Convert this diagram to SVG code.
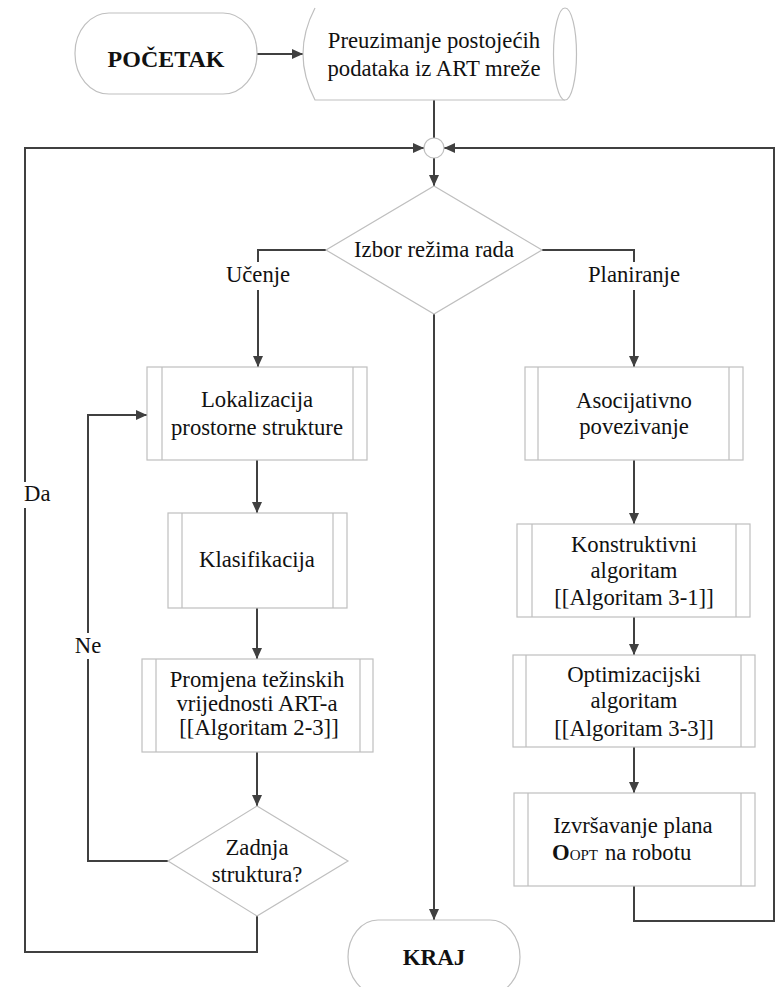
<svg xmlns="http://www.w3.org/2000/svg" width="775" height="987" viewBox="0 0 775 987">
<style>
.sh{fill:#fff;stroke:#bfbfbf;stroke-width:1.2}
.in{fill:none;stroke:#bfbfbf;stroke-width:1.2}
.c{fill:none;stroke:#404040;stroke-width:2}
text{font-family:"Liberation Serif","Times New Roman",serif;font-size:22.7px;fill:#111;text-anchor:middle}
.b{font-weight:bold;font-size:23px}
.lb{fill:#fff;stroke:none}
</style>
<defs>
<marker id="ah" markerUnits="userSpaceOnUse" markerWidth="11" markerHeight="10" refX="11" refY="5" orient="auto">
<path d="M0,0 L11,5 L0,10 z" fill="#404040"/>
</marker>
</defs>
<rect width="775" height="987" fill="#fff"/>
<g id="connectors">
<path class="c" d="M257,54 H303" marker-end="url(#ah)"/>
<path class="c" d="M434,100 V138"/>
<path class="c" d="M434,158 V186" marker-end="url(#ah)"/>
<path class="c" d="M326,250 H258 V367" marker-end="url(#ah)"/>
<path class="c" d="M542,250 H634 V367" marker-end="url(#ah)"/>
<path class="c" d="M434,314 V920" marker-end="url(#ah)"/>
<path class="c" d="M257,460 V513" marker-end="url(#ah)"/>
<path class="c" d="M257,608 V659" marker-end="url(#ah)"/>
<path class="c" d="M257,752 V806" marker-end="url(#ah)"/>
<path class="c" d="M168,861 H88 V415 H147" marker-end="url(#ah)"/>
<path class="c" d="M257,916 V952 H25 V148 H424" marker-end="url(#ah)"/>
<path class="c" d="M634,460 V524" marker-end="url(#ah)"/>
<path class="c" d="M634,617 V655" marker-end="url(#ah)"/>
<path class="c" d="M634,747 V793" marker-end="url(#ah)"/>
<path class="c" d="M634,886 V921 H774 V148 H444" marker-end="url(#ah)"/>
<rect class="lb" x="220" y="262" width="76" height="28"/>
<text x="258" y="282">Učenje</text>
<rect class="lb" x="582" y="262" width="104" height="28"/>
<text x="634" y="282">Planiranje</text>
<rect class="lb" x="72" y="633" width="32" height="26"/>
<text x="88" y="653">Ne</text>
<rect class="lb" x="18" y="482" width="34" height="26"/>
<text x="24" y="501" style="text-anchor:start">Da</text>
</g>
<g id="start">
<rect class="sh" x="75" y="13" width="182" height="81" rx="34" ry="40"/>
<text class="b" x="166" y="67" style="font-size:24px">POČETAK</text>
</g>
<g id="data">
<path class="sh" d="M315,8 Q291,54 315,100 L565,100"/>
<ellipse class="sh" cx="565" cy="54" rx="11.5" ry="46"/>
<text x="434" y="48">Preuzimanje postojećih</text>
<text x="434" y="76">podataka iz ART mreže</text>
</g>
<g id="merge">
<circle class="sh" cx="434" cy="148" r="10"/>
</g>
<g id="mode">
<path class="sh" d="M434,186 L542,250 L434,314 L326,250 z"/>
<text x="434" y="257">Izbor režima rada</text>
</g>
<g id="lokalizacija">
<rect class="sh" x="147" y="367" width="220" height="93"/>
<path class="in" d="M162,367 V460 M353,367 V460"/>
<text x="257" y="407">Lokalizacija</text>
<text x="257" y="435">prostorne strukture</text>
</g>
<g id="klasifikacija">
<rect class="sh" x="168" y="513" width="179" height="95"/>
<path class="in" d="M182,513 V608 M333,513 V608"/>
<text x="257" y="567">Klasifikacija</text>
</g>
<g id="promjena">
<rect class="sh" x="142" y="659" width="231" height="93"/>
<path class="in" d="M156,659 V752 M360,659 V752"/>
<text x="257" y="687">Promjena težinskih</text>
<text x="257" y="711">vrijednosti ART-a</text>
<text x="259" y="735">[[Algoritam 2-3]]</text>
</g>
<g id="zadnja">
<path class="sh" d="M257,806 L348,861 L257,916 L168,861 z"/>
<text x="257" y="855">Zadnja</text>
<text x="257" y="882">struktura?</text>
</g>
<g id="kraj">
<rect class="sh" x="348" y="920" width="172" height="74" rx="30" ry="37"/>
<text class="b" x="434" y="965">KRAJ</text>
</g>
<g id="asocijativno">
<rect class="sh" x="525" y="367" width="218" height="93"/>
<path class="in" d="M538,367 V460 M729,367 V460"/>
<text x="634" y="408">Asocijativno</text>
<text x="634" y="434">povezivanje</text>
</g>
<g id="konstruktivni">
<rect class="sh" x="517" y="524" width="233" height="93"/>
<path class="in" d="M532,524 V617 M736,524 V617"/>
<text x="634" y="552">Konstruktivni</text>
<text x="634" y="578">algoritam</text>
<text x="634" y="605">[[Algoritam 3-1]]</text>
</g>
<g id="optimizacijski">
<rect class="sh" x="513" y="655" width="242" height="92"/>
<path class="in" d="M526,655 V747 M741,655 V747"/>
<text x="634" y="682">Optimizacijski</text>
<text x="634" y="708">algoritam</text>
<text x="634" y="736">[[Algoritam 3-3]]</text>
</g>
<g id="izvrsavanje">
<rect class="sh" x="514" y="793" width="241" height="93"/>
<path class="in" d="M528,793 V886 M741,793 V886"/>
<text x="633" y="833">Izvršavanje plana</text>
<text x="552" y="860" style="text-anchor:start"><tspan font-weight="bold">O</tspan><tspan font-size="15">OPT</tspan><tspan dx="7">na robotu</tspan></text>
</g>
</svg>
